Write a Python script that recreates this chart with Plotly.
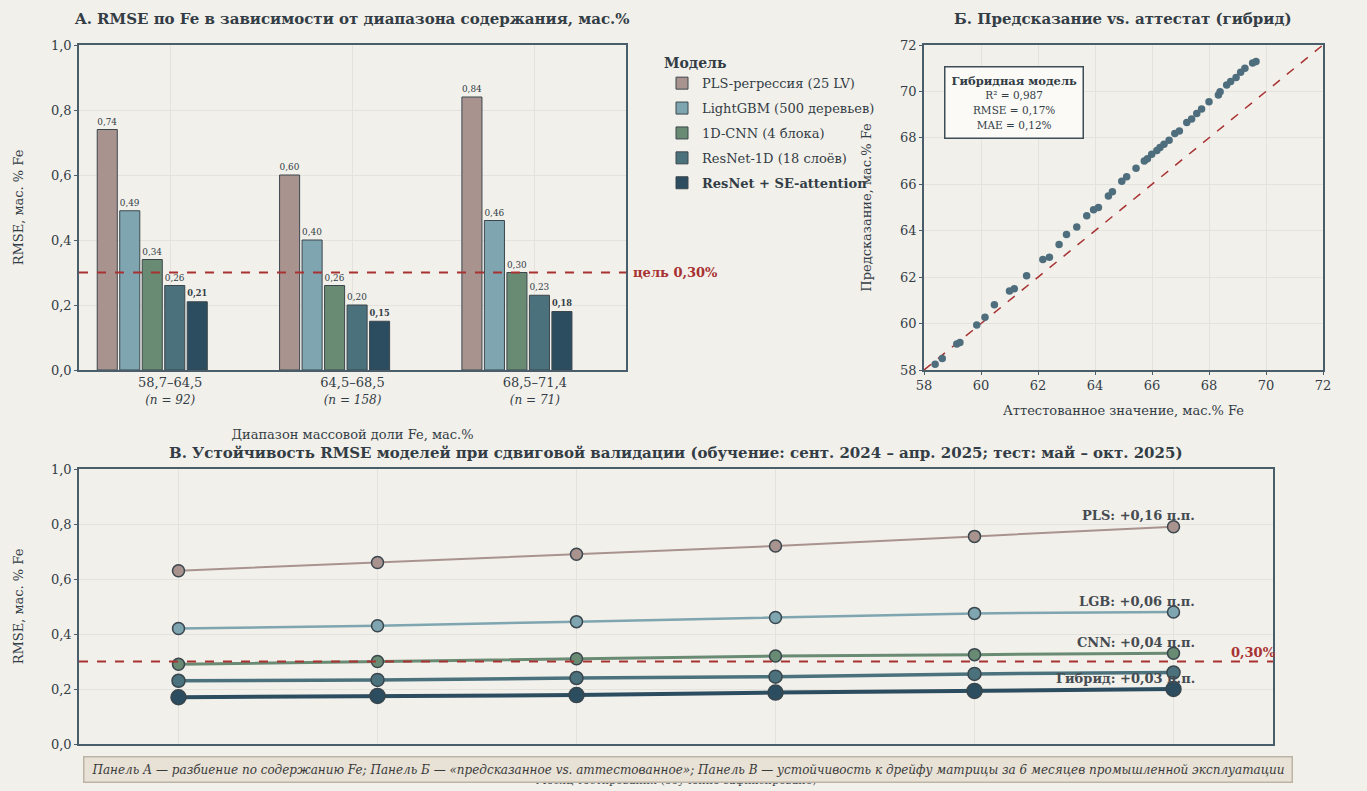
import plotly.graph_objects as go

# ---------------- data ----------------
models = ["PLS-регрессия (25 LV)", "LightGBM (500 деревьев)", "1D-CNN (4 блока)",
          "ResNet-1D (18 слоёв)", "<b>ResNet + SE-attention</b>"]
colors = ["#a8938f", "#7ea5b0", "#6a8b73", "#4b727c", "#2b4d5f"]
ranges = ["58,7–64,5", "64,5–68,5", "68,5–71,4"]
n_counts = [92, 158, 71]
rmse_by_range = [
    [0.74, 0.60, 0.84],   # PLS
    [0.49, 0.40, 0.46],   # LightGBM
    [0.34, 0.26, 0.30],   # 1D-CNN
    [0.26, 0.20, 0.23],   # ResNet-1D
    [0.21, 0.15, 0.18],   # ResNet + SE
]
target = 0.30

cert_fe = [58.39, 58.64, 59.15, 59.26, 59.85, 60.14, 60.47, 61.0, 61.17, 61.6, 62.17, 62.4,
           62.74, 63.0, 63.36, 63.71, 63.95, 64.12, 64.47, 64.61, 64.94, 65.11, 65.44, 65.73,
           65.84, 65.99, 66.17, 66.28, 66.42, 66.6, 66.8, 66.96, 67.22, 67.39, 67.57, 67.74,
           68.0, 68.33, 68.39, 68.62, 68.76, 68.95, 69.11, 69.26, 69.53, 69.65]
pred_fe = [58.25, 58.5, 59.12, 59.19, 59.94, 60.27, 60.81, 61.4, 61.5, 62.06, 62.76, 62.86,
           63.41, 63.84, 64.16, 64.65, 64.9, 65.0, 65.5, 65.68, 66.13, 66.33, 66.69, 67.0,
           67.1, 67.29, 67.46, 67.58, 67.72, 67.9, 68.19, 68.3, 68.66, 68.81, 69.05, 69.24,
           69.56, 69.85, 69.99, 70.28, 70.43, 70.6, 70.83, 71.0, 71.22, 71.29]

months = ["май 2025", "июн 2025", "июл 2025", "авг 2025", "сен 2025", "окт 2025"]
drift_names = ["PLS", "LGB", "CNN", "ResNet-1D", "Гибрид"]
drift = [
    [0.63, 0.66, 0.69, 0.72, 0.755, 0.79],
    [0.42, 0.43, 0.445, 0.46, 0.475, 0.48],
    [0.29, 0.30, 0.31, 0.32, 0.325, 0.33],
    [0.23, 0.233, 0.24, 0.245, 0.255, 0.26],
    [0.17, 0.175, 0.178, 0.187, 0.193, 0.20],
]
drift_labels = ["PLS: +0,16 п.п.", "LGB: +0,06 п.п.", "CNN: +0,04 п.п.", None, "Гибрид: +0,03 п.п."]

# ---------------- style ----------------
BG = "#f2f0eb"
TXT = "#333d45"
RED = "#a83232"
FONT = "DejaVu Serif"
W, H = 1367, 791


def px_x(p):
    return p / W


def px_y(p):
    return 1 - p / H


fig = go.Figure()

# Panel A bars
bar_step = 0.1234
bar_w = 0.11
for i, (m, c, vals) in enumerate(zip(models, colors, rmse_by_range)):
    txt = [f"{v:.2f}".replace(".", ",") for v in vals]
    if i == 4:
        txt = [f"<b>{t}</b>" for t in txt]
    fig.add_trace(go.Bar(
        x=list(range(len(ranges))), y=vals, name=m, legendgroup=f"g{i}",
        marker=dict(color=c, line=dict(color="#3c474d", width=1)),
        width=bar_w, offset=-0.40 + i * bar_step,
        text=txt, textposition="outside", cliponaxis=False,
        textfont=dict(size=9, color=TXT, family=FONT),
        xaxis="x", yaxis="y", showlegend=True,
    ))

# Panel B
fig.add_trace(go.Scatter(x=[58, 72], y=[58, 72], mode="lines",
                         line=dict(color=RED, width=1.5, dash="dash"),
                         xaxis="x2", yaxis="y2", showlegend=False, hoverinfo="skip"))
fig.add_trace(go.Scatter(x=cert_fe, y=pred_fe, mode="markers",
                         marker=dict(color="#4f6e7d", size=7.5),
                         xaxis="x2", yaxis="y2", showlegend=False))

# Panel C
lw = [2, 2.5, 3, 3.5, 4]
ms = [12, 12, 12, 13, 15]
for i, (nm, vals) in enumerate(zip(drift_names, drift)):
    fig.add_trace(go.Scatter(
        x=list(range(len(months))), y=vals, mode="lines+markers", name=nm,
        line=dict(color=colors[i], width=lw[i]),
        marker=dict(color=colors[i], size=ms[i], line=dict(color="#39464d", width=1.5)),
        xaxis="x3", yaxis="y3", showlegend=False, cliponaxis=False,
    ))

axis_common = dict(
    showline=True, linecolor="#4a5d6b", linewidth=1.5, mirror=True, automargin=False,
    gridcolor="#e4e2dc", zeroline=False, ticklen=3,
    tickcolor="#4a5d6b", tickfont=dict(size=13, color=TXT, family=FONT),
)

fig.update_layout(
    width=W, height=H, margin=dict(l=0, r=0, t=0, b=0, autoexpand=False),
    paper_bgcolor=BG, plot_bgcolor=BG,
    separators=", ",
    font=dict(family=FONT, color=TXT),
    barmode="overlay",
    xaxis=dict(domain=[px_x(79), px_x(626)], anchor="y", range=[-0.5, 2.5],
               tickmode="array", tickvals=list(range(len(ranges))),
               ticktext=[f"{r}<br><i><span style='font-size:12px'>(n = {n})</span></i>"
                         for r, n in zip(ranges, n_counts)],
               title=dict(text="Диапазон массовой доли Fe, мас.%", standoff=24,
                          font=dict(size=13, color=TXT)),
               showgrid=True, ticks="", **axis_common),
    yaxis=dict(domain=[px_y(370), px_y(45)], anchor="x", range=[0, 1.0], dtick=0.2,
               tickformat=".1f", ticks="outside",
               title=dict(text="RMSE, мас. % Fe", font=dict(size=13, color=TXT), standoff=24),
               **axis_common),
    xaxis2=dict(domain=[px_x(924), px_x(1323)], anchor="y2", range=[58, 72], dtick=2,
                ticks="outside",
                title=dict(text="Аттестованное значение, мас.% Fe", standoff=14,
                           font=dict(size=13, color=TXT)),
                **axis_common),
    yaxis2=dict(domain=[px_y(370), px_y(45)], anchor="x2", range=[58, 72], dtick=2,
                ticks="outside",
                title=dict(text="Предсказание, мас.% Fe", font=dict(size=13, color=TXT), standoff=26),
                **axis_common),
    xaxis3=dict(domain=[px_x(79), px_x(1273)], anchor="y3", range=[-0.5, 5.5],
                tickmode="array", tickvals=list(range(len(months))), ticktext=months,
                showticklabels=False, ticks="",
                title=dict(text="Месяц тестирования (обучение зафиксировано)", standoff=32,
                           font=dict(size=11, color=TXT)),
                **axis_common),
    yaxis3=dict(domain=[px_y(744), px_y(469)], anchor="x3", range=[0, 1.0], dtick=0.2,
                tickformat=".1f", ticks="outside",
                title=dict(text="RMSE, мас. % Fe", font=dict(size=13, color=TXT), standoff=24),
                **axis_common),
    legend=dict(x=px_x(662), y=px_y(50), xanchor="left", yanchor="top",
                bgcolor="rgba(0,0,0,0)", font=dict(size=13, color=TXT, family=FONT),
                title=dict(text="<b>Модель</b>", font=dict(size=14, color=TXT)),
                itemwidth=30, tracegroupgap=5),
)

# target lines
fig.add_shape(type="line", xref="x domain", yref="y", x0=0, x1=1, y0=target, y1=target,
              line=dict(color=RED, width=2, dash="dash"))
fig.add_shape(type="line", xref="x3 domain", yref="y3", x0=0, x1=1, y0=target, y1=target,
              line=dict(color=RED, width=2, dash="dash"))

ann = []
# titles
ann.append(dict(text="<b>A. RMSE по Fe в зависимости от диапазона содержания, мас.%</b>",
                xref="paper", yref="paper", x=px_x(352), y=px_y(19), xanchor="center",
                yanchor="middle", showarrow=False, font=dict(size=15, color=TXT)))
ann.append(dict(text="<b>Б. Предсказание vs. аттестат (гибрид)</b>",
                xref="paper", yref="paper", x=px_x(1123), y=px_y(19), xanchor="center",
                yanchor="middle", showarrow=False, font=dict(size=15, color=TXT)))
ann.append(dict(text="<b>В. Устойчивость RMSE моделей при сдвиговой валидации (обучение: сент. 2024 – апр. 2025; тест: май – окт. 2025)</b>",
                xref="paper", yref="paper", x=px_x(676), y=px_y(453), xanchor="center",
                yanchor="middle", showarrow=False, font=dict(size=15, color=TXT)))
# target label panel A
ann.append(dict(text="<b>цель 0,30%</b>", xref="x domain", yref="y", x=1.01, y=target,
                xanchor="left", yanchor="middle", showarrow=False,
                font=dict(size=13, color=RED)))
# metrics box panel B
ann.append(dict(text="<b>Гибридная модель</b><br><span style='font-size:10.5px'>R² = 0,987<br>RMSE = 0,17%<br>MAE = 0,12%</span>",
                xref="x2 domain", yref="y2 domain", x=0.05, y=0.935, xanchor="left", yanchor="top",
                showarrow=False, align="center", font=dict(size=11.5, color=TXT),
                bgcolor="#fbfaf7", bordercolor="#3f4d57", borderwidth=1.5, borderpad=6))
# drift labels panel C
last = len(months) - 1
for i, lab in enumerate(drift_labels):
    if lab is None:
        continue
    ann.append(dict(text=f"<b>{lab}</b>", xref="x3", yref="y3", x=last + 0.12,
                    y=drift[i][-1], xanchor="right", yanchor="middle", yshift=11,
                    showarrow=False, font=dict(size=13, color="#454b50")))
ann.append(dict(text="<b>0,30%</b>", xref="x3 domain", yref="y3", x=1.004, y=target,
                xanchor="right", yanchor="bottom", showarrow=False,
                font=dict(size=13, color=RED)))
# footer
ann.append(dict(text="<i>Панель А — разбиение по содержанию Fe; Панель Б — «предсказанное vs. аттестованное»; Панель В — устойчивость к дрейфу матрицы за 6 месяцев промышленной эксплуатации</i>",
                xref="paper", yref="paper", x=px_x(688), y=px_y(769), xanchor="center",
                yanchor="middle", showarrow=False,
                width=1205, height=22, bgcolor="#e7e1d6", bordercolor="#bdb4a5", borderwidth=1.5,
                font=dict(size=12, color="#3a3a3a")))
fig.update_layout(annotations=ann)

fig.write_html(
    "out.html",
    config={"displayModeBar": False},
    post_script=f"document.body.style.margin='0';document.body.style.background='{BG}';",
)
